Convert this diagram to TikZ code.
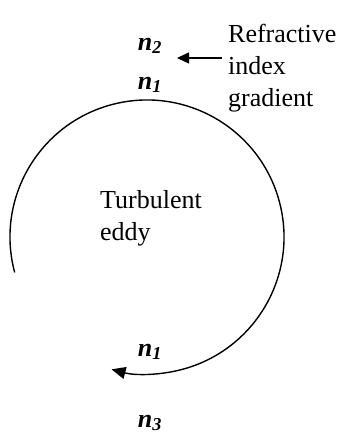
\documentclass[tikz,border=0pt]{standalone}
\usepackage{fontspec}
\setmainfont{Liberation Serif}
\usetikzlibrary{arrows.meta}
\newcommand{\nidx}[1]{\textbf{\textit{n}\textsubscript{\textit{#1}}}}
\begin{document}
\begin{tikzpicture}[x=1pt, y=1pt,
    lbl/.style={font=\fontsize{26}{32}\selectfont},
    idx/.style={font=\fontsize{26}{32}\selectfont},
    tip/.style={-{Triangle[length=14pt, width=12pt]}, line width=1.4pt}]
    \useasboundingbox (0,0) rectangle (340,436);

    % --- BRECHINGSINDEX ---
    \node[idx] (n2) at (150,390) {\nidx{2}};
    \node[idx] (n1top) at (150,351) {\nidx{1}};
    \node[idx] (n1bot) at (150,84) {\nidx{1}};
    \node[idx] (n3) at (150,13) {\nidx{3}};

    % Gradient
    \node[lbl, anchor=west, align=left, inner sep=0pt] (grad) at (228,368) {Refractive\\index\\gradient};
    \coordinate (gtail) at (222,378);
    \coordinate (gtip) at (177,378);
    \draw[tip, -{Triangle[length=12pt, width=11pt]}] (gtail) -- (gtip);

    % --- WERVEL ---
    \node[lbl, anchor=west, align=left, inner sep=0pt] (eddy) at (100,218) {Turbulent\\eddy};
    \coordinate (c) at (147,199);
    \draw[tip] (c) ++(195:137) arc[start angle=195, end angle=-105, radius=137];
\end{tikzpicture}
\end{document}
